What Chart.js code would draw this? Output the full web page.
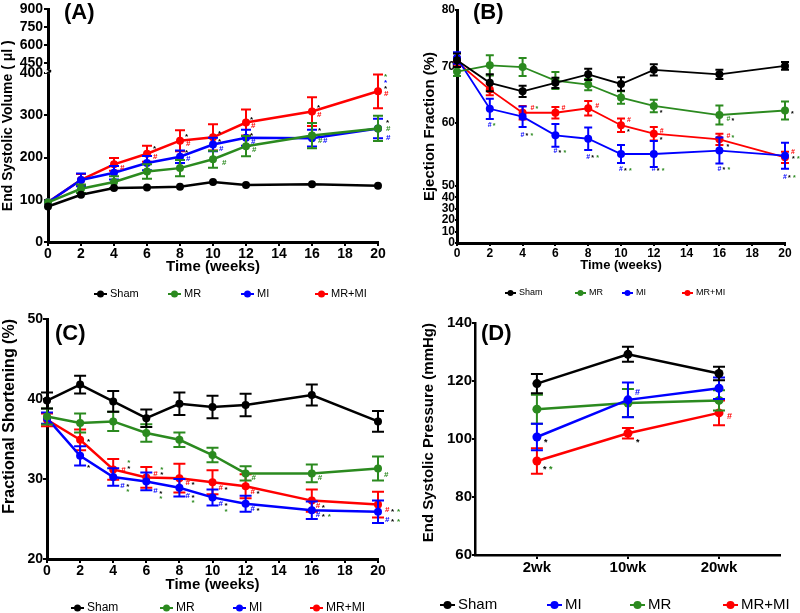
<!DOCTYPE html>
<html>
<head>
<meta charset="utf-8">
<title>Cardiac function over time</title>
<script src="https://cdn.jsdelivr.net/npm/chart.js@4.4.1/dist/chart.umd.min.js"></script>
<style>
    html, body { margin: 0; padding: 0; background: #fff; }
    body { position: relative; width: 800px; height: 613px; overflow: hidden; }
    canvas { position: absolute; }
</style>
</head>
<body>
<canvas id="chartA" width="400" height="300" style="left:0;top:0"></canvas>
<canvas id="chartB" width="400" height="300" style="left:400px;top:0"></canvas>
<canvas id="chartC" width="400" height="313" style="left:0;top:300px"></canvas>
<canvas id="chartD" width="400" height="313" style="left:400px;top:300px"></canvas>
<script>
/* ---------- data ---------- */
const WEEKS = [0, 2, 4, 6, 8, 10, 12, 16, 20];

// (A) End systolic volume (µl)
const esvSham = [84, 112, 128, 129, 131, 142, 135, 137, 133];
const esvShamErr = [2, 3, 3, 3, 3, 3, 3, 3, 3];
const esvMR = [94, 126, 142, 167, 175, 196, 227, 252, 269];
const esvMRErr = [4, 10, 14, 17, 19, 20, 24, 30, 30];
const esvMI = [94, 147, 164, 187, 202, 231, 247, 246, 269];
const esvMIErr = [4, 15, 16, 17, 15, 16, 19, 20, 23];
const esvMRMI = [94, 147, 184, 209, 240, 248, 283, 309, 357];
const esvMRMIErr = [4, 14, 15, 19, 25, 31, 31, 34, 40];
const ESV_TICKS = [0, 100, 200, 300, 400, 450, 600, 750, 900];

// (B) Ejection fraction (%)
const efSham = [71.1, 67.1, 65.6, 67.1, 68.6, 66.9, 69.4, 68.6, 70.1];
const efShamErr = [1.2, 1.5, 1.0, 0.9, 1.0, 1.2, 1.0, 0.8, 0.7];
const efMR = [69.1, 70.2, 69.9, 67.5, 66.8, 64.5, 63.0, 61.4, 62.2];
const efMRErr = [0.8, 1.8, 1.6, 1.5, 1.0, 1.1, 1.1, 1.7, 1.6];
const efMI = [71.5, 62.5, 61.1, 57.8, 57.2, 54.5, 54.5, 55.1, 54.2];
const efMIErr = [1.0, 1.8, 1.8, 2.0, 2.0, 1.6, 2.3, 2.3, 2.3];
const efMRMI = [70.8, 65.9, 61.8, 61.8, 62.6, 59.6, 58.1, 57.1, 53.9];
const efMRMIErr = [0.8, 1.0, 1.2, 1.0, 1.3, 1.2, 1.2, 1.0, 1.0];
const EF_TICKS = [0, 10, 20, 30, 40, 50, 60, 70, 80];

// (C) Fractional shortening (%)
const fsSham = [39.8, 41.8, 39.7, 37.6, 39.4, 39.0, 39.25, 40.5, 37.2];
const fsShamErr = [1.0, 1.1, 1.3, 1.1, 1.4, 1.4, 1.4, 1.3, 1.3];
const fsMR = [37.8, 37.0, 37.2, 35.75, 34.9, 33.0, 30.7, 30.7, 31.3];
const fsMRErr = [1.0, 1.2, 1.2, 1.1, 0.9, 0.9, 0.9, 1.1, 1.5];
const fsMI = [37.6, 32.9, 30.25, 29.7, 28.9, 27.7, 26.9, 26.1, 25.9];
const fsMIErr = [0.7, 1.2, 1.1, 1.1, 1.1, 1.0, 1.0, 1.1, 1.4];
const fsMRMI = [37.4, 34.9, 31.2, 30.2, 30.1, 29.6, 29.1, 27.3, 26.8];
const fsMRMIErr = [0.8, 1.3, 1.3, 1.3, 1.8, 1.5, 1.5, 1.4, 1.6];

// (D) End systolic pressure (mmHg)
const ESP_WEEKS = ['2wk', '10wk', '20wk'];
const espSham = [119.1, 129.2, 122.6];
const espShamErr = [3.3, 2.6, 2.3];
const espMI = [100.7, 113.5, 117.5];
const espMIErr = [4.6, 6.0, 3.7];
const espMR = [110.3, 112.4, 113.3];
const espMRErr = [5.0, 4.8, 3.5];
const espMRMI = [92.4, 102.0, 109.0];
const espMRMIErr = [4.4, 1.8, 4.3];

// significance marks: [series, point, dx, dy, colour+glyph pairs]
const MARKS_A = [
    [3, 2, 6, 3, 'r#'],
    [3, 3, 6, -7, 'k*'], [3, 3, 6, 3, 'r#'],
    [3, 4, 5, -6, 'k*'], [3, 4, 6, 3, 'r#'], [2, 4, 5, -6, 'k*'], [2, 4, 6, 2, 'b#'],
    [3, 5, 5, -6, 'k*'], [2, 5, 5, -5, 'k*'], [2, 5, 6, 4, 'b#'], [1, 5, 9, 4, 'g#'],
    [3, 6, 4, -5, 'k*'], [3, 6, 5, 3, 'r#'], [2, 6, 4, -4, 'k*'], [2, 6, 5, 4, 'b#'], [1, 6, 6, 4, 'g#'],
    [3, 7, 5, -6, 'k*'], [3, 7, 5, 3, 'r#'], [2, 7, 6, -9, 'k*'], [2, 7, 6, 3, 'g#b#'],
    [3, 8, 6, -16, 'g*'], [3, 8, 6, -10, 'b*'], [3, 8, 6, -4, 'k*'], [3, 8, 6, 3, 'r#'],
    [1, 8, 8, -8, 'k*'], [1, 8, 8, 0, 'g#'], [1, 8, 8, 9, 'b#']
];
const MARKS_B = [
    [2, 1, -2, 16, 'b#g*'],
    [2, 2, -2, 18, 'b#k*g*'], [3, 2, 8, -5, 'r#g*'],
    [2, 3, -2, 16, 'b#k*g*'], [3, 3, 6, -5, 'r#'],
    [2, 4, -2, 18, 'b#k*g*'], [3, 4, 7, -2, 'r#'],
    [3, 5, 6, -5, 'r#'], [3, 5, 6, 5, 'k*'], [2, 5, -2, 15, 'b#k*g*'],
    [3, 6, 6, -3, 'r#'], [3, 6, 6, 5, 'k*'], [1, 6, 6, 5, 'k*'], [2, 6, -2, 15, 'b#k*g*'],
    [1, 7, 7, 4, 'g#k*'], [3, 7, 7, -3, 'r#g*'], [3, 7, 7, 6, 'k*'], [2, 7, -2, 18, 'b#k*g*'],
    [1, 8, 6, 2, 'k*'], [3, 8, 6, -5, 'r#'], [3, 8, 7, 0, 'k*g*'], [2, 8, -2, 21, 'b#k*g*']
];
const MARKS_C = [
    [3, 1, 7, 0, 'k*'], [2, 1, 7, 10, 'k*'],
    [3, 2, 8, 0, 'r#'], [3, 2, 14, -9, 'g*'], [3, 2, 14, -3, 'k*'], [2, 2, 7, 9, 'b#'], [2, 2, 13, 8, 'k*'], [2, 2, 13, 13, 'g*'],
    [3, 3, 7, -4, 'r#'], [3, 3, 14, -10, 'g*'], [3, 3, 14, -5, 'k*'], [2, 3, 7, 9, 'b#'], [2, 3, 13, 10, 'k*'], [2, 3, 13, 15, 'g*'],
    [3, 4, 6, 5, 'r#k*'], [2, 4, 6, 8, 'b#k*'], [2, 4, 12, 13, 'g*'],
    [3, 5, 6, 6, 'r#k*'], [2, 5, 6, 6, 'b#k*'], [2, 5, 12, 12, 'g*'],
    [1, 6, 6, 4, 'g#'], [3, 6, 5, 6, 'r#k*'], [2, 6, 5, 5, 'b#k*'],
    [1, 7, 6, 4, 'g#'], [3, 7, 4, 5, 'r#k*'], [2, 7, 4, 5, 'b#k*g*'],
    [1, 8, 6, 6, 'g#'], [3, 8, 7, 5, 'r#k*g*'], [2, 8, 7, 8, 'b#k*g*']
];
const MARKS_D = [
    [1, 0, 7, 3, 'k*'], [3, 0, 6, 6, 'k*g*'], [1, 1, 7, -7, 'b#'], [3, 1, 8, 7, 'k*'], [3, 2, 8, 4, 'r#']
];

/* ---------- styling ---------- */
const FONT = '"Liberation Sans", Arial, Helvetica, sans-serif';
const COLORS = { 'Sham': '#000000', 'MR': '#2b8a1f', 'MI': '#0000ff', 'MR+MI': '#ff0000' };
const MARK_COLORS = { k: '#000000', g: '#2b8a1f', b: '#0000ff', r: '#ff0000' };

Chart.defaults.font.family = FONT;
Chart.defaults.color = '#000';
Chart.defaults.animation = false;

// y axis with a break: values map piecewise onto the axis height
class BrokenScale extends Chart.LinearScale {
    static id = 'broken';
    buildTicks() {
        this.start = this.min;
        this.end = this.max;
        return this.options.tickValues.map(v => ({ value: v }));
    }
    getPixelForValue(value) {
        if (value === null || value === undefined || isNaN(value)) return NaN;
        const segs = this.options.segments;
        let s = segs[segs.length - 1];
        for (const seg of segs) {
            if (value <= seg[1]) { s = seg; break; }
        }
        const f = s[2] + (value - s[0]) / (s[1] - s[0]) * (s[3] - s[2]);
        return this.getPixelForDecimal(f);
    }
    getValueForPixel(pixel) {
        const f = this.getDecimalForPixel(pixel);
        const segs = this.options.segments;
        let s = segs[segs.length - 1];
        for (const seg of segs) {
            if (f <= seg[3]) { s = seg; break; }
        }
        return s[0] + (f - s[2]) / (s[3] - s[2]) * (s[1] - s[0]);
    }
}
Chart.register(BrokenScale);

function series(label, xs, ys, errs, lineWidth, radius) {
    return {
        label: label,
        data: ys.map((y, i) => ({ x: xs[i], y: y })),
        errors: errs,
        borderColor: COLORS[label],
        backgroundColor: COLORS[label],
        pointBackgroundColor: COLORS[label],
        pointBorderColor: COLORS[label],
        borderWidth: lineWidth,
        pointRadius: radius,
        pointBorderWidth: 0,
        tension: 0,
        clip: false
    };
}

function axis(o) {
    const a = {
        type: o.type || 'linear',
        min: o.min,
        max: o.max,
        border: { display: true, color: '#000', width: o.border || 3 },
        grid: { drawOnChartArea: false, drawTicks: true, tickLength: o.tickLength, color: '#000', lineWidth: 2 },
        ticks: {
            color: '#000', autoSkip: false, maxRotation: 0, padding: o.tickPad || 0,
            font: { family: FONT, size: o.tickSize, weight: 'bold' }
        },
        afterFit: o.fit
    };
    if (o.stepSize) a.ticks.stepSize = o.stepSize;
    if (o.callback) a.ticks.callback = o.callback;
    if (o.tickValues) a.tickValues = o.tickValues;
    if (o.segments) a.segments = o.segments;
    if (o.afterBuildTicks) a.afterBuildTicks = o.afterBuildTicks;
    if (o.title) {
        a.title = {
            display: true, text: o.title, color: '#000', align: o.titleAlign || 'center',
            font: { family: FONT, size: o.titleSize, weight: 'bold' },
            padding: { top: o.titlePadTop || 0, bottom: o.titlePadBottom || 0 }
        };
    }
    return a;
}

// error bars, legend, panel label, significance marks, axis break
function decor(cfg) {
    return {
        id: 'decor',
        afterDatasetDraw(chart, args) {
            const ds = chart.data.datasets[args.index];
            const meta = args.meta;
            const ys = chart.scales[meta.yAxisID];
            const ctx = chart.ctx;
            ctx.save();
            ctx.strokeStyle = ds.borderColor;
            ctx.lineWidth = cfg.errWidth;
            meta.data.forEach((pt, i) => {
                const v = ds.data[i].y, e = ds.errors[i];
                const top = ys.getPixelForValue(v + e);
                const bot = ys.getPixelForValue(v - e);
                // bars shorter than the marker stay hidden behind it
                if ((bot - top) / 2 < 2.5) return;
                ctx.beginPath();
                ctx.moveTo(pt.x, top); ctx.lineTo(pt.x, bot);
                ctx.moveTo(pt.x - cfg.cap, top); ctx.lineTo(pt.x + cfg.cap, top);
                ctx.moveTo(pt.x - cfg.cap, bot); ctx.lineTo(pt.x + cfg.cap, bot);
                ctx.stroke();
            });
            ctx.restore();
        },
        afterDraw(chart) {
            const ctx = chart.ctx;
            ctx.save();

            if (cfg.breakAxis) {
                const ys = chart.scales.y;
                const segs = ys.options.segments;
                const pLow = ys.getPixelForDecimal(segs[0][3]);
                const pHigh = ys.getPixelForDecimal(segs[1][2]);
                const x = ys.right;
                ctx.fillStyle = '#fff';
                ctx.fillRect(x - 3, pHigh, 6, pLow - pHigh);
                ctx.strokeStyle = '#000';
                ctx.lineWidth = 2;
                ctx.beginPath();
                ctx.moveTo(x - 1, pHigh); ctx.lineTo(x + 3, pHigh + 2);
                ctx.moveTo(x - 1, pLow); ctx.lineTo(x + 3, pLow - 2);
                ctx.stroke();
            }

            // significance marks
            ctx.font = 'bold ' + cfg.markSize + 'px ' + FONT;
            ctx.textAlign = 'left';
            ctx.textBaseline = 'middle';
            cfg.marks.forEach(m => {
                const pt = chart.getDatasetMeta(m[0]).data[m[1]];
                const spec = m[4];
                for (let k = 0; k < spec.length; k += 2) {
                    const glyph = spec[k + 1];
                    ctx.fillStyle = MARK_COLORS[spec[k]];
                    const yAdj = glyph === '*' ? cfg.markSize * 0.25 : 0;
                    ctx.fillText(glyph, pt.x + m[2] + (k / 2) * cfg.markPitch, pt.y + m[3] + yAdj);
                }
            });

            // panel label
            ctx.fillStyle = '#000';
            ctx.font = 'bold ' + cfg.label.size + 'px ' + FONT;
            ctx.fillText(cfg.label.text, cfg.label.x, cfg.label.y);

            // legend: short line with a dot, then the group name
            const lg = cfg.legend;
            ctx.font = lg.size + 'px ' + FONT;
            chart.data.datasets.forEach((ds, k) => {
                const x = lg.xs[k];
                ctx.strokeStyle = ds.borderColor;
                ctx.fillStyle = ds.borderColor;
                ctx.lineWidth = 2;
                ctx.beginPath();
                ctx.moveTo(x, lg.y); ctx.lineTo(x + lg.line, lg.y);
                ctx.stroke();
                ctx.beginPath();
                ctx.arc(x + lg.line / 2, lg.y, lg.dot, 0, Math.PI * 2);
                ctx.fill();
                ctx.fillStyle = '#000';
                ctx.fillText(ds.label, x + lg.line + 3, lg.y);
            });
            ctx.restore();
        }
    };
}

const baseOptions = {
    responsive: false,
    events: [],
    plugins: { legend: { display: false }, tooltip: { enabled: false } }
};

// (A) End systolic volume
new Chart(document.getElementById('chartA'), {
    type: 'line',
    data: {
        datasets: [
            series('Sham', WEEKS, esvSham, esvShamErr, 2.5, 4),
            series('MR', WEEKS, esvMR, esvMRErr, 2.5, 4),
            series('MI', WEEKS, esvMI, esvMIErr, 2.5, 4),
            series('MR+MI', WEEKS, esvMRMI, esvMRMIErr, 2.5, 4)
        ]
    },
    options: {
        ...baseOptions,
        layout: { padding: { top: 8, right: 22, bottom: 24, left: 0 } },
        scales: {
            x: axis({ min: 0, max: 20, stepSize: 2, tickSize: 14, tickLength: 4, title: 'Time (weeks)', titleSize: 15,
                fit: s => { s.height = 34; } }),
            y: axis({ type: 'broken', min: 0, max: 900, tickValues: ESV_TICKS,
                segments: [[0, 400, 0, 0.726], [400, 900, 0.743, 1]],
                tickSize: 14, tickLength: 4, tickPad: 1, callback: v => v,
                title: 'End Systolic Volume ( μl )', titleSize: 14,
                fit: s => { s.width = 48; } })
        }
    },
    plugins: [decor({
        errWidth: 2, cap: 5, markSize: 8, markPitch: 5, marks: MARKS_A, breakAxis: true,
        label: { text: '(A)', x: 64, y: 13, size: 22 },
        legend: { xs: [94, 168, 241, 315], y: 294, size: 11, line: 13, dot: 3.5 }
    })]
});

// (B) Ejection fraction
new Chart(document.getElementById('chartB'), {
    type: 'line',
    data: {
        datasets: [
            series('Sham', WEEKS, efSham, efShamErr, 1.8, 4),
            series('MR', WEEKS, efMR, efMRErr, 1.8, 4),
            series('MI', WEEKS, efMI, efMIErr, 1.8, 4),
            series('MR+MI', WEEKS, efMRMI, efMRMIErr, 1.8, 4)
        ]
    },
    options: {
        ...baseOptions,
        layout: { padding: { top: 10, right: 15, bottom: 24, left: 0 } },
        scales: {
            x: axis({ min: 0, max: 20, stepSize: 2, tickSize: 12, tickLength: 3, title: 'Time (weeks)', titleSize: 13,
                titlePadBottom: 3, fit: s => { s.height = 33; } }),
            y: axis({ type: 'broken', min: 0, max: 80, tickValues: EF_TICKS,
                segments: [[0, 50, 0, 0.245], [50, 80, 0.273, 1]],
                tickSize: 12, tickLength: 2, callback: v => v,
                title: 'Ejection Fraction (%)', titleSize: 15, titlePadTop: 21,
                fit: s => { s.width = 57; } })
        }
    },
    plugins: [decor({
        errWidth: 2, cap: 4, markSize: 7, markPitch: 5, marks: MARKS_B, breakAxis: false,
        label: { text: '(B)', x: 73, y: 13, size: 22 },
        legend: { xs: [105, 175, 222, 282], y: 293, size: 9, line: 11, dot: 3 }
    })]
});

// (C) Fractional shortening
new Chart(document.getElementById('chartC'), {
    type: 'line',
    data: {
        datasets: [
            series('Sham', WEEKS, fsSham, fsShamErr, 2.5, 4),
            series('MR', WEEKS, fsMR, fsMRErr, 2.5, 4),
            series('MI', WEEKS, fsMI, fsMIErr, 2.5, 4),
            series('MR+MI', WEEKS, fsMRMI, fsMRMIErr, 2.5, 4)
        ]
    },
    options: {
        ...baseOptions,
        layout: { padding: { top: 19, right: 22, bottom: 19, left: 0 } },
        scales: {
            x: axis({ min: 0, max: 20, stepSize: 2, tickSize: 14, tickLength: 4, title: 'Time (weeks)', titleSize: 15,
                fit: s => { s.height = 35; } }),
            y: axis({ min: 20, max: 50, stepSize: 10, tickSize: 14, tickLength: 4,
                title: 'Fractional Shortening (%)', titleSize: 16, titleAlign: 'end',
                fit: s => { s.width = 47; } })
        }
    },
    plugins: [decor({
        errWidth: 2, cap: 6, markSize: 8, markPitch: 6, marks: MARKS_C, breakAxis: false,
        label: { text: '(C)', x: 55, y: 34, size: 22 },
        legend: { xs: [71, 160, 233, 310], y: 308, size: 12, line: 13, dot: 3.5 }
    })]
});

// (D) End systolic pressure
new Chart(document.getElementById('chartD'), {
    type: 'line',
    data: {
        datasets: [
            series('Sham', [1, 2, 3], espSham, espShamErr, 2.5, 4.5),
            series('MI', [1, 2, 3], espMI, espMIErr, 2.5, 4.5),
            series('MR', [1, 2, 3], espMR, espMRErr, 2.5, 4.5),
            series('MR+MI', [1, 2, 3], espMRMI, espMRMIErr, 2.5, 4.5)
        ]
    },
    options: {
        ...baseOptions,
        layout: { padding: { top: 23, right: 20, bottom: 28, left: 0 } },
        scales: {
            x: axis({ min: 0.32, max: 3.67, tickSize: 15, tickLength: 4, border: 2.5,
                afterBuildTicks: s => { s.ticks = ESP_WEEKS.map((w, i) => ({ value: i + 1 })); },
                callback: v => ESP_WEEKS[Math.round(v) - 1],
                fit: s => { s.height = 30; } }),
            y: axis({ min: 60, max: 140, stepSize: 20, tickSize: 15, tickLength: 3, border: 2.5,
                title: 'End Systolic Pressure (mmHg)', titleSize: 15, titlePadTop: 20, titleAlign: 'end',
                fit: s => { s.width = 75; } })
        }
    },
    plugins: [decor({
        errWidth: 2, cap: 6, markSize: 9, markPitch: 6, marks: MARKS_D, breakAxis: false,
        label: { text: '(D)', x: 81, y: 34, size: 22 },
        legend: { xs: [40, 147, 230, 323], y: 305, size: 15, line: 15, dot: 4 }
    })]
});
</script>
</body>
</html>
